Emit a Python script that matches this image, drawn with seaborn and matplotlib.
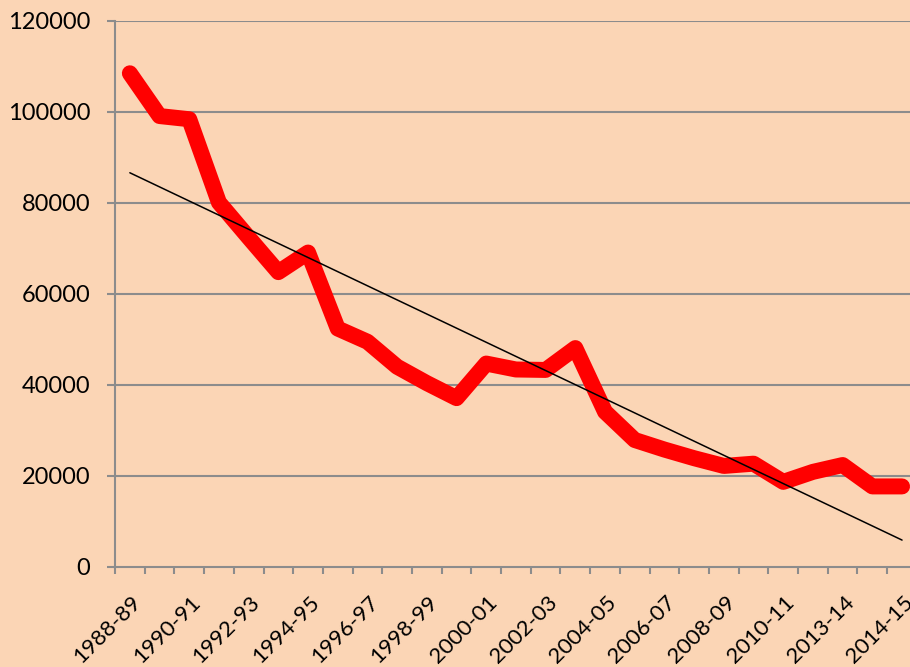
import numpy as np
import pandas as pd
import matplotlib
matplotlib.use("Agg")
import matplotlib.pyplot as plt
import matplotlib.transforms as mtransforms
import seaborn as sns

# ---- data ----
values = [108400, 99000, 98300, 80000, 72300, 64700, 69000, 52300, 49400, 43900,
          40300, 37000, 44600, 43300, 43200, 48000, 34000, 27800, 25700, 23800,
          22100, 22600, 18600, 20800, 22300, 17600, 17600]
x_labels = ["1988-89", "1990-91", "1992-93", "1994-95", "1996-97", "1998-99",
            "2000-01", "2002-03", "2004-05", "2006-07", "2008-09", "2010-11",
            "2013-14", "2014-15"]
y_ticks = [0, 20000, 40000, 60000, 80000, 100000, 120000]

bg = "#FBD5B5"
grid_c = "#8C8C8C"

sns.set_theme(style="white")
plt.rcParams["font.family"] = ["Lato", "DejaVu Sans"]

df = pd.DataFrame({"idx": np.arange(len(values)), "value": values})

fig = plt.figure(figsize=(9.10, 6.67), dpi=100, facecolor=bg)
W, H = 910, 667
left_px, right_px = 115, 115 + 27 * 29.7
top_px, bottom_px = 20.5, 566.5
ax = fig.add_axes([left_px / W, (H - bottom_px) / H, (right_px - left_px) / W,
                   (bottom_px - top_px) / H])
ax.set_facecolor(bg)

# horizontal gridlines
for yv in y_ticks[1:]:
    ax.axhline(yv, color=grid_c, lw=1.5, zorder=1)

sns.lineplot(data=df, x="idx", y="value", ax=ax, color="#FF0000", lw=11.5,
             solid_capstyle="round", solid_joinstyle="round", zorder=3)

# linear trend line (least-squares fit of the series)
coef = np.polyfit(df["idx"], df["value"], 1)
trend = np.polyval(coef, df["idx"])
sns.lineplot(x=df["idx"], y=trend, ax=ax, color="black", lw=1.1, zorder=4)

ax.set_xlim(-0.5, len(values) - 0.5)
ax.set_ylim(0, 120000)
ax.set_xlabel("")
ax.set_ylabel("")

ax.set_yticks(y_ticks)
ax.set_yticklabels([str(v) for v in y_ticks])
ax.tick_params(axis="y", length=5.8, width=1.5, color=grid_c, pad=12,
               labelsize=17, labelcolor="black", direction="out", left=True)

ax.set_xticks(np.arange(0, len(values), 2))
ax.set_xticklabels(x_labels, rotation=45, ha="right", va="top",
                   rotation_mode="anchor")
ax.set_xticks(np.arange(-0.5, len(values), 1), minor=True)
ax.tick_params(axis="x", which="major", length=0, pad=18.5, labelsize=16,
               labelcolor="black")
ax.tick_params(axis="x", which="minor", length=5, width=1.5, color=grid_c,
               direction="out", bottom=True)
shift = mtransforms.ScaledTranslation(1 / 100, 0, fig.dpi_scale_trans)
for lab in ax.get_xticklabels():
    lab.set_transform(lab.get_transform() + shift)

for s in ["top", "right"]:
    ax.spines[s].set_visible(False)
for s in ["left", "bottom"]:
    ax.spines[s].set_color(grid_c)
    ax.spines[s].set_linewidth(1.5)

fig.savefig("out.png", dpi=100, facecolor=bg)
